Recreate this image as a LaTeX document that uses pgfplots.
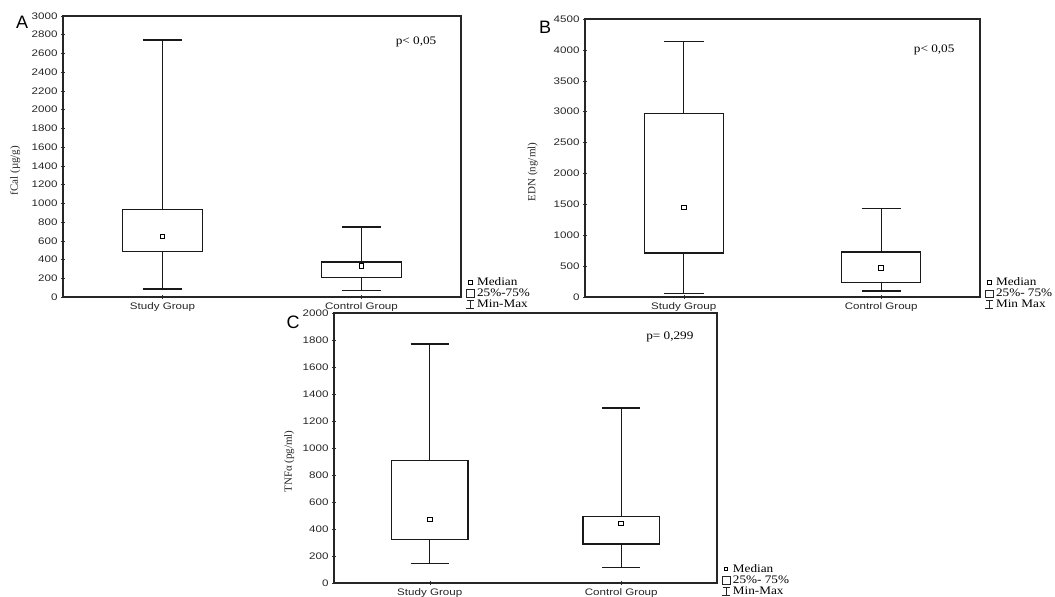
\documentclass[border=0pt]{standalone}
\usepackage{pgfplots}
\pgfplotsset{compat=1.18}
\usepgfplotslibrary{statistics}
\usepackage{fontspec}
\setmainfont{Liberation Serif}
\newfontfamily\arial{Liberation Sans}
\newfontfamily\arialw[FakeStretch=1.22]{Liberation Sans}
\newfontfamily\timesw[FakeStretch=1.15]{Liberation Serif}

\tikzset{
 ptext/.style={font=\timesw\fontsize{11.5}{12}\selectfont},
 letter/.style={font=\arial\fontsize{18}{18}\selectfont},
}
\pgfplotsset{
 mybox/.style={
   scale only axis, xmin=0.5, xmax=2.5, ymin=0,
   xtick={1,2}, xticklabels={Study Group, Control Group},
   xtick pos=bottom, ytick pos=left, tick align=center,
   major tick length=4pt,
   tick style={black!80, line width=0.5pt},
   axis line style={black!85, line width=1.2pt},
   ticklabel style={font=\arialw\fontsize{9.5}{10}\selectfont, black!85},
   /pgf/number format/assume math mode=true,
   /pgf/number format/1000 sep={},
   every axis y label/.style={at={(rel axis cs:#1,0.45)}, rotate=90, anchor=center, font=\fontsize{11}{11}\selectfont, black!85},
   clip=false,
   boxplot/draw direction=y,
   boxplot/box extend=0.4,
   boxplot/whisker extend=0.2,
   boxplot/draw/median/.code={},
   legend cell align=left,
   legend style={draw=none, fill=none, font=\timesw\fontsize{11.5}{12}\selectfont,
     at={(1.012,0.072)}, anchor=north west, row sep=0.6pt, inner sep=0pt,
     nodes={inner xsep=2.5pt, inner ysep=0.6pt}},
 },
 bp/.style={black!90, line width=1.2pt, solid, forget plot},
 med/.style={only marks, mark=square, mark size=2.3pt, black, line width=1pt, forget plot},
 legmed/.style={legend image code/.code={\draw[black, line width=0.9pt] (2.2pt,-1.8pt) rectangle (5.8pt,1.8pt);}},
 legbox/.style={legend image code/.code={\draw[black!85, line width=0.6pt] (0pt,-3.8pt) rectangle (8pt,3.8pt);}},
 legwh/.style={legend image code/.code={\draw[black!85, line width=0.6pt] (4pt,-4pt)--(4pt,4pt) (0.5pt,4pt)--(7.5pt,4pt) (0pt,-4pt)--(8pt,-4pt);}},
}

\begin{document}
\begin{tikzpicture}
\path[use as bounding box] (0,0) rectangle (1055pt,597pt);

% Panel A
\begin{axis}[mybox=-0.12, at={(63pt,300pt)}, anchor=south west, width=398pt, height=281pt,
  ymax=3000, ytick={0,200,...,3000}, ylabel={fCal (µg/g)}]
\addplot[bp, boxplot prepared={draw position=1, lower whisker=85, lower quartile=488, median=645, upper quartile=933, upper whisker=2743}] coordinates {};
\addplot[bp, boxplot prepared={draw position=2, lower whisker=68, lower quartile=210, median=328, upper quartile=374, upper whisker=748}] coordinates {};
\addplot[med] coordinates {(1,645) (2,328)};
\addlegendimage{legmed}\addlegendentry{Median}
\addlegendimage{legbox}\addlegendentry{25\%-75\%}
\addlegendimage{legwh}\addlegendentry{Min-Max}
\node[letter] at (rel axis cs:-0.103,0.979) {A};
\node[ptext] at (rel axis cs:0.887,0.907) {p< 0,05};
\end{axis}

% Panel B
\begin{axis}[mybox=-0.132, at={(585pt,300pt)}, anchor=south west, width=395pt, height=278pt,
  ymax=4500, ytick={0,500,...,4500}, ylabel={EDN (ng/ml)}]
\addplot[bp, boxplot prepared={draw position=1, lower whisker=54, lower quartile=713, median=1448, upper quartile=2971, upper whisker=4133}] coordinates {};
\addplot[bp, boxplot prepared={draw position=2, lower whisker=97, lower quartile=232, median=470, upper quartile=729, upper whisker=1432}] coordinates {};
\addplot[med] coordinates {(1,1448) (2,470)};
\addlegendimage{legmed}\addlegendentry{Median}
\addlegendimage{legbox}\addlegendentry{25\%- 75\%}
\addlegendimage{legwh}\addlegendentry{Min Max}
\node[letter] at (rel axis cs:-0.101,0.971) {B};
\node[ptext] at (rel axis cs:0.884,0.888) {p< 0,05};
\end{axis}

% Panel C
\begin{axis}[mybox=-0.117, at={(334pt,14pt)}, anchor=south west, width=383pt, height=270pt,
  ymax=2000, ytick={0,200,...,2000}, ylabel={TNFα (pg/ml)}]
\addplot[bp, boxplot prepared={draw position=1, lower whisker=143, lower quartile=321, median=469, upper quartile=909, upper whisker=1770}] coordinates {};
\addplot[bp, boxplot prepared={draw position=2, lower whisker=116, lower quartile=289, median=440, upper quartile=494, upper whisker=1296}] coordinates {};
\addplot[med] coordinates {(1,469) (2,440)};
\addlegendimage{legmed}\addlegendentry{Median}
\addlegendimage{legbox}\addlegendentry{25\%- 75\%}
\addlegendimage{legwh}\addlegendentry{Min-Max}
\node[letter] at (rel axis cs:-0.107,0.967) {C};
\node[ptext] at (rel axis cs:0.877,0.911) {p= 0,299};
\end{axis}
\end{tikzpicture}
\end{document}
